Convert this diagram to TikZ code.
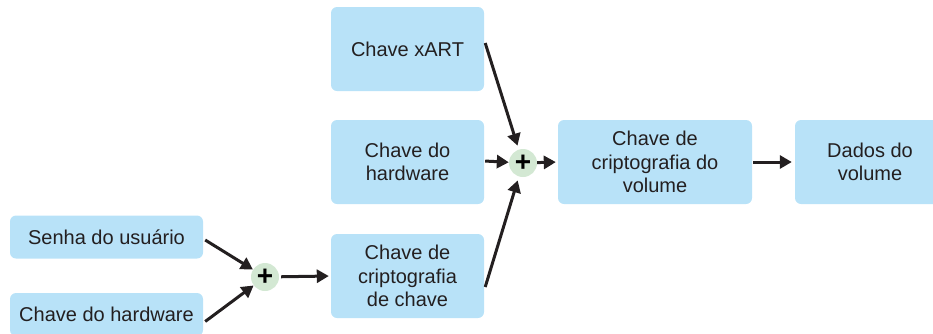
\documentclass[tikz,border=0pt]{standalone}
\usepackage{fontspec}
\setmainfont{Liberation Sans}
\usepackage{tikz}
\usetikzlibrary{arrows.meta}
\definecolor{keyblue}{HTML}{B8E2F8}
\definecolor{plusgreen}{HTML}{D3E8D3}
\definecolor{arrowdark}{HTML}{231F20}

\begin{document}
\begin{tikzpicture}[x=1pt,y=-1pt,
  keybox/.style={rectangle,rounded corners=6pt,fill=keyblue,text=arrowdark,
    align=center,inner sep=0pt,font=\fontsize{20}{23.5}\selectfont},
  plusnode/.style={circle,fill=plusgreen,minimum size=28pt,inner sep=0pt,
    font=\fontsize{28}{28}\selectfont\bfseries},
  flow/.style={line width=3pt,arrowdark,-{Triangle[length=12pt,width=13pt]}}]
\useasboundingbox (0,0) rectangle (933,333);
\begin{scope}
\clip (0,0) rectangle (933,333);

\node (senha)[keybox,minimum width=193pt,minimum height=43pt] at (106.5,237) {Senha do usuário};
\node (hwa)[keybox,minimum width=193pt,minimum height=43pt] at (106.5,314.5) {Chave do hardware};
\node (plusa)[plusnode] at (265,277) {+};

\node (chavecc)[keybox,minimum width=153pt,minimum height=84pt] at (407.5,276) {Chave de\\criptografia\\de chave};
\node (xart)[keybox,minimum width=153pt,minimum height=84pt] at (407.5,49) {Chave xART};
\node (hwb)[keybox,minimum width=153pt,minimum height=84pt] at (407.5,162) {Chave do\\hardware};
\node (plusb)[plusnode] at (523,163) {+};

\node (volkey)[keybox,minimum width=194pt,minimum height=84pt] at (655,162) {Chave de\\criptografia do\\volume};
\node (dados)[keybox,minimum width=150pt,minimum height=84pt] at (870,162) {Dados do\\volume};

\draw[flow] ([xshift=2pt,yshift=-3pt]senha.east) -- (plusa);
\draw[flow] ([xshift=2pt,yshift=-7pt]hwa.east) -- (plusa);
\draw[flow,shorten <=2pt,shorten >=2pt] (plusa) -- (chavecc.west);

\draw[flow,shorten >=4pt] ([xshift=1pt,yshift=6pt]xart.east) -- (plusb);
\draw[flow,shorten <=1pt] ([yshift=1pt]hwb.east) -- (plusb);
\draw[flow,shorten >=2pt] (plusb) -- (volkey.west);
\draw[flow,shorten >=4pt] ([xshift=1pt,yshift=-11pt]chavecc.east) -- (plusb);
\draw[flow,shorten <=1pt,shorten >=3pt] (volkey) -- (dados);
\end{scope}
\end{tikzpicture}
\end{document}
